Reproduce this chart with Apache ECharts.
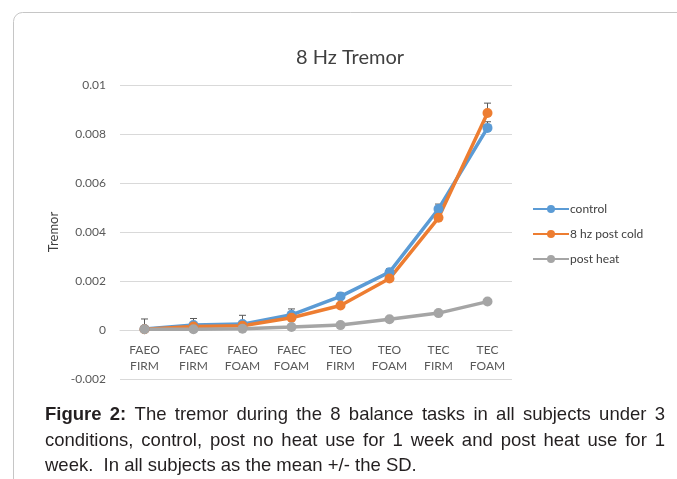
<!DOCTYPE html>
<html>
<head>
<meta charset="utf-8">
<script src="https://cdn.jsdelivr.net/npm/echarts@6/dist/echarts.min.js"></script>
<style>html,body{margin:0;padding:0;background:#fff}#c{width:677px;height:479px}</style>
</head>
<body>
<div id="c"></div>
<script>
const categories = ['FAEO\nFIRM','FAEC\nFIRM','FAEO\nFOAM','FAEC\nFOAM','TEO\nFIRM','TEO\nFOAM','TEC\nFIRM','TEC\nFOAM'];
const control = [0.00004, 0.0002, 0.00024, 0.00062, 0.00137, 0.00236, 0.00494, 0.00825];
const postCold = [0.00003, 0.00014, 0.00017, 0.0005, 0.001, 0.0021, 0.00458, 0.00886];
const postHeat = [0.00003, 0.00003, 0.00005, 0.00012, 0.0002, 0.00044, 0.00069, 0.00116];
const controlSD = [0.00041, 0.00027, 0.00036, 0.00024, 0.00014, 0.00014, 0.0002, 0.00025];
const postColdSD = [0.0001, 0.0001, 0.0001, 0.0001, 0.0001, 0.0001, 0.0001, 0.0004];
const yTicks = {min: -0.002, max: 0.01, interval: 0.002};
const captionLines = [
  'Figure 2: The tremor during the 8 balance tasks in all subjects under 3',
  'conditions, control, post no heat use for 1 week and post heat use for 1',
  'week.  In all subjects as the mean +/- the SD.'
];

const chart = echarts.init(document.getElementById('c'));
const FONT = 'Lato, "Open Sans", sans-serif';

function errData(vals, sds){ return vals.map((v,i)=>[i, v, v+sds[i]]); }
function renderErr(params, api){
  const p0 = api.coord([api.value(0), api.value(1)]);
  const p1 = api.coord([api.value(0), api.value(2)]);
  const st = {stroke:'#595959', lineWidth:1};
  return {type:'group', children:[
    {type:'line', shape:{x1:p0[0],y1:p0[1],x2:p1[0],y2:p1[1]}, style:st},
    {type:'line', shape:{x1:p1[0]-3.5,y1:p1[1],x2:p1[0]+3.5,y2:p1[1]}, style:st}
  ]};
}

// caption (justified)
const cv = document.createElement('canvas').getContext('2d');
const capSize = 18.5, capFamily = '"Liberation Sans", Arial, sans-serif';
const capLeft = 45, capRight = 665, capY = [415, 441, 466];
const graphics = [{
  type:'rect', left:11, top:10, z:-10,
  shape:{x:0,y:0,width:720,height:520,r:9},
  style:{fill:'none', stroke:'#c6c6c6', lineWidth:1}
}];
captionLines.forEach((line, li) => {
  const words = line.split(/\s+/);
  const weights = words.map((w, wi) => (li===0 && wi<2) ? 'bold' : 'normal');
  const widths = words.map((w, wi) => { cv.font = weights[wi] + ' ' + capSize + 'px ' + capFamily; return cv.measureText(w).width; });
  const sum = widths.reduce((a,b)=>a+b,0);
  let gap;
  if (li < captionLines.length - 1) gap = (capRight - capLeft - sum) / (words.length - 1);
  else { cv.font = 'normal ' + capSize + 'px ' + capFamily; gap = cv.measureText(' ').width; }
  let x = capLeft;
  words.forEach((w, wi) => {
    if (li === 2 && wi === 1) x += gap;
    graphics.push({type:'text', x:x, y:capY[li], z:10, style:{text:w, fontSize:capSize, fontFamily:capFamily, fontWeight:weights[wi], fill:'#231f20', verticalAlign:'middle'}});
    x += widths[wi] + gap;
  });
});

const lineSeries = (name, data, color) => ({
  name, type:'line', data, z:3,
  symbol:'circle', symbolSize:10,
  lineStyle:{color, width:3.5},
  itemStyle:{color},
  emphasis:{disabled:true}, animation:false
});

chart.setOption({
  animation:false,
  title:{text:'8 Hz Tremor', left:345, textAlign:'center', top:43,
    textStyle:{fontFamily:FONT, fontSize:20, fontWeight:'normal', color:'#404040'}},
  legend:{orient:'vertical', left:527, top:198, itemGap:13, itemWidth:36, itemHeight:10,
    textStyle:{fontFamily:FONT, fontSize:12, color:'#404040', padding:[0,0,0,-4]},
    data:['control','8 hz post cold','post heat']},
  grid:{left:120, width:392, top:85, bottom:100},
  xAxis:{type:'category', data:categories, boundaryGap:true, offset:-49,
    axisLine:{onZero:false, lineStyle:{color:'#d9d9d9'}}, axisTick:{show:false},
    axisLabel:{fontFamily:FONT, fontSize:12, color:'#595959', lineHeight:16, margin:12, interval:0},
    splitLine:{show:false}},
  yAxis:{type:'value', min:yTicks.min, max:yTicks.max, interval:yTicks.interval,
    name:'Tremor', nameLocation:'middle', nameRotate:90, nameGap:48,
    nameTextStyle:{fontFamily:FONT, fontSize:13, color:'#404040'},
    axisLine:{show:false}, axisTick:{show:false},
    axisLabel:{fontFamily:FONT, fontSize:12, color:'#595959', margin:14, formatter:v => String(+v.toFixed(3))},
    splitLine:{lineStyle:{color:'#d9d9d9'}}},
  series:[
    {type:'custom', name:'errC', renderItem:renderErr, data:errData(control, controlSD), z:2, silent:true},
    {type:'custom', name:'errO', renderItem:renderErr, data:errData(postCold, postColdSD), z:2, silent:true},
    lineSeries('control', control, '#5b9bd5'),
    lineSeries('8 hz post cold', postCold, '#ed7d31'),
    lineSeries('post heat', postHeat, '#a5a5a5')
  ],
  graphic: graphics
});
</script>
</body>
</html>
